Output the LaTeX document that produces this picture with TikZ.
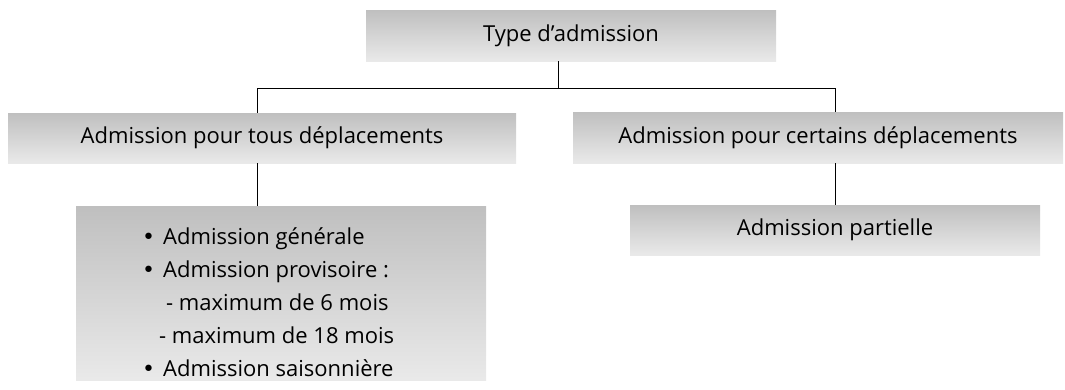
\documentclass[tikz,border=0pt]{standalone}
\usepackage{fontspec}
\setmainfont{Open Sans}
\newfontfamily\pucefont{DejaVu Sans}
\usetikzlibrary{positioning}
\newcommand{\puce}{{\pucefont\char"2022}\hspace{8pt}}

\begin{document}
\begin{tikzpicture}[x=1pt,y=-1pt,
  box/.style={top color=gray!50,bottom color=gray!17,shading angle=0,
    inner sep=0pt,font=\fontsize{22}{33}\selectfont},
  link/.style={draw=black,line width=0.9pt}]
\useasboundingbox (0,0) rectangle (1065,389);
\node[box,minimum width=410,minimum height=51] (typ) at (571,35.5) {Type d'admission};
\node[box,minimum width=508,minimum height=50] (tous) at (262,138) {Admission pour tous déplacements};
\node[box,minimum width=490,minimum height=51] (certains) at (818,137.5) {Admission pour certains déplacements};
\node[box,minimum width=410,minimum height=174] (liste) at (281,293) {};
\node[box,minimum width=410,minimum height=50] (partielle) at (835,230) {Admission partielle};
% contenu de la liste
\node[anchor=west,align=left,inner sep=0pt,font=\fontsize{22}{33}\selectfont] (items) at (142,302)
  {\puce Admission générale\\
   \puce Admission provisoire :\\
   \hspace{24pt}- maximum de 6 mois\\
   \hspace{17pt}- maximum de 18 mois\\
   \puce Admission saisonnière};
\coordinate (fork) at (558,88);
\path[link]
([xshift=-13]typ.south) edge (fork)
([xshift=-5]tous.north) edge[to path={|- (\tikztotarget)}] (fork)
(fork) edge[to path={-| (\tikztotarget)}] ([xshift=17]certains.north)
([xshift=-5]tous.south) edge ([xshift=-24]liste.north)
([xshift=17]certains.south) edge (partielle.north);
\end{tikzpicture}
\end{document}
